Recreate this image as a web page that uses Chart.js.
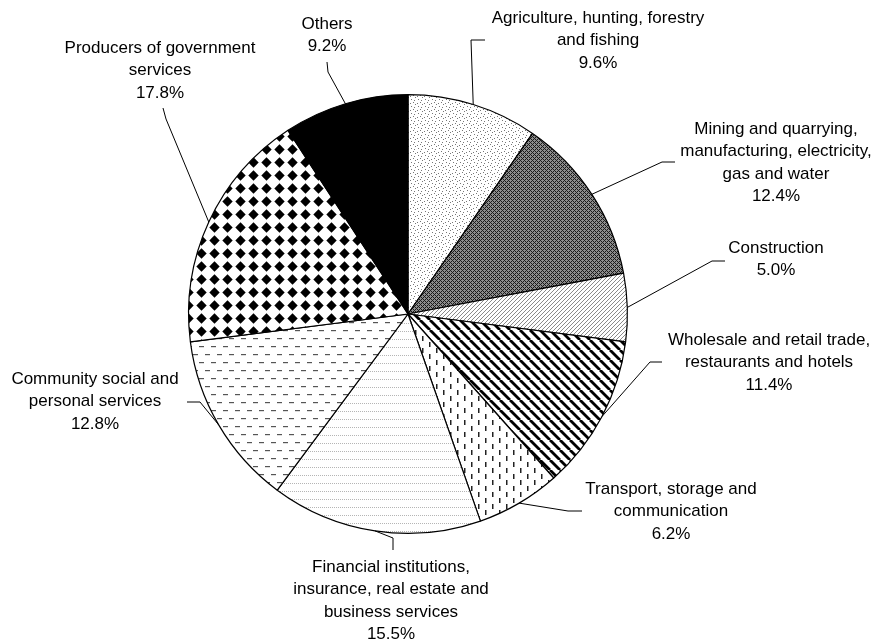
<!DOCTYPE html>
<html>
<head>
<meta charset="utf-8">
<script src="https://cdn.jsdelivr.net/npm/chart.js@4.4.0/dist/chart.umd.min.js"></script>
<style>
  html,body{margin:0;padding:0;background:#fff;}
  #wrap{width:877px;height:641px;position:relative;}
</style>
</head>
<body>
<div id="wrap"><canvas id="c" width="877" height="641"></canvas></div>
<script>
// ── DATA ──
const sectors = [
  ['Agriculture, hunting, forestry', 'and fishing'],
  ['Mining and quarrying,', 'manufacturing, electricity,', 'gas and water'],
  ['Construction'],
  ['Wholesale and retail trade,', 'restaurants and hotels'],
  ['Transport, storage and', 'communication'],
  ['Financial institutions,', 'insurance, real estate and', 'business services'],
  ['Community social and', 'personal services'],
  ['Producers of government', 'services'],
  ['Others']
];
const shares = [9.6, 12.4, 5.0, 11.4, 6.2, 15.5, 12.8, 17.8, 9.2];

// label placement: text centre x, first line y, leader bend point, leader end
const labelPos = [
  {cx:598, y:18,  bend:[471,40],  end:[485,40]},
  {cx:776, y:129, bend:[662,162], end:[675,162]},
  {cx:776, y:248, bend:[712,261], end:[725,261]},
  {cx:769, y:340, bend:[650,362], end:[662,362]},
  {cx:671, y:489, bend:[568,511], end:[582,511]},
  {cx:391, y:567, bend:[393,538], end:[393,550]},
  {cx:95,  y:379, bend:[200,402], end:[187,402]},
  {cx:160, y:48,  bend:[166,119], end:[163,108]},
  {cx:327, y:24,  bend:[328,72],  end:[327,62]}
];

const canvas = document.getElementById('c');
const ctx = canvas.getContext('2d');

// ── FILL PATTERNS ──
function tile(w, h, draw){
  const t = document.createElement('canvas');
  t.width = w; t.height = h;
  const g = t.getContext('2d');
  g.fillStyle = '#fff'; g.fillRect(0,0,w,h);
  draw(g, w, h);
  return ctx.createPattern(t, 'repeat');
}
const px = (g, pts, col) => { g.fillStyle = col; pts.forEach(p => g.fillRect(p[0], p[1], 1, 1)); };

const fills = [
  // stipple
  tile(7, 7, g => px(g, [[1,2],[4,5],[5,1],[2,6],[0,4]], '#777')),
  // dense crosshatch
  tile(4, 4, g => { g.fillStyle='#8c8c8c'; g.fillRect(0,0,4,4);
    px(g, [[0,0],[1,1],[2,2],[3,3],[1,3],[3,1]], '#1a1a1a'); }),
  // fine forward diagonal
  tile(4, 4, g => px(g, [[3,0],[2,1],[1,2],[0,3]], '#8a8a8a')),
  // bold back diagonal
  tile(10, 10, g => { g.strokeStyle='#000'; g.lineWidth=2.8;
    [-10,0,10].forEach(x => { g.beginPath(); g.moveTo(x,0); g.lineTo(x+10,10); g.stroke(); }); }),
  // vertical dashes
  tile(14, 12, g => { g.fillStyle='#222'; g.fillRect(2,0,1.5,5); g.fillRect(9,6,1.5,5); }),
  // faint dotted rows
  tile(4, 8, g => px(g, [[0,3],[2,3]], '#b5b5b5')),
  // horizontal dashes
  tile(24, 16, g => { g.fillStyle='#555';
    [[1,2],[13,2],[7,10],[19,10]].forEach(p => g.fillRect(p[0], p[1], 5, 1.2)); }),
  // diamonds
  tile(13, 13, g => { g.fillStyle='#000'; g.beginPath();
    g.moveTo(6.5,1.3); g.lineTo(11.7,6.5); g.lineTo(6.5,11.7); g.lineTo(1.3,6.5); g.closePath(); g.fill(); }),
  '#000'
];

// ── LABELS + LEADERS ──
const FONT = '17px "Liberation Sans", Arial, sans-serif';
const LINE_H = 22.5;

const leaderLabels = {
  id: 'leaderLabels',
  afterDraw(chart){
    const c = chart.ctx;
    const arcs = chart.getDatasetMeta(0).data;
    c.save();
    c.strokeStyle = '#000';
    c.lineWidth = 1;
    c.fillStyle = '#000';
    c.font = FONT;
    c.textAlign = 'center';
    c.textBaseline = 'middle';
    arcs.forEach((arc, i) => {
      const p = arc.getProps(['x','y','startAngle','endAngle','outerRadius'], true);
      const mid = (p.startAngle + p.endAngle) / 2;
      const ex = p.x + Math.cos(mid) * p.outerRadius;
      const ey = p.y + Math.sin(mid) * p.outerRadius;
      const L = labelPos[i];
      c.beginPath();
      c.moveTo(ex, ey);
      c.lineTo(L.bend[0], L.bend[1]);
      c.lineTo(L.end[0], L.end[1]);
      c.stroke();
      const lines = sectors[i].concat([shares[i].toFixed(1) + '%']);
      lines.forEach((t, k) => c.fillText(t, L.cx, L.y + k * LINE_H));
    });
    c.restore();
  }
};

new Chart(ctx, {
  type: 'pie',
  data: {
    labels: sectors.map(s => s.join(' ')),
    datasets: [{
      data: shares,
      backgroundColor: fills,
      borderColor: '#000',
      borderWidth: 1.2
    }]
  },
  options: {
    responsive: false,
    animation: false,
    layout: { padding: { left: 188, right: 249, top: 94, bottom: 107 } },
    plugins: { legend: { display: false }, tooltip: { enabled: false } }
  },
  plugins: [leaderLabels]
});
</script>
</body>
</html>
